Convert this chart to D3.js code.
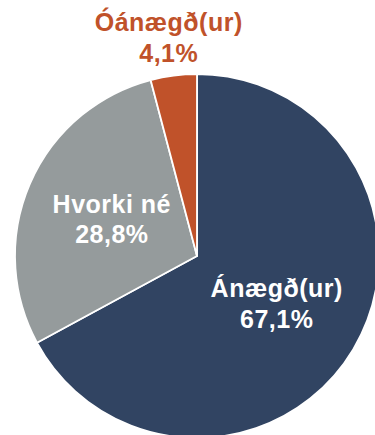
<!DOCTYPE html>
<html>
<head>
<meta charset="utf-8">
<script src="https://cdn.jsdelivr.net/npm/d3@7/dist/d3.min.js"></script>
<style>
  html, body { margin: 0; padding: 0; background: #ffffff; }
  svg { display: block; }
  text { font-family: "Liberation Sans", Arial, sans-serif; font-weight: bold; }
</style>
</head>
<body>
<svg id="chart" width="375" height="435"></svg>
<script>
// Satisfaction shares (percent)
const categories = ["Ánægð(ur)", "Hvorki né", "Óánægð(ur)"];
const values = [67.1, 28.8, 4.1];
const valueLabels = ["67,1%", "28,8%", "4,1%"];
const colors = ["#314462", "#959b9c", "#c0522a"];
const labelInside = [true, true, false];

const width = 375, height = 435;
const cx = 197, cy = 256, radius = 182;

const svg = d3.select("#chart");
const g = svg.append("g").attr("transform", `translate(${cx},${cy})`);

const data = categories.map((c, i) => ({ name: c, value: values[i], label: valueLabels[i], color: colors[i], inside: labelInside[i] }));

const pie = d3.pie().value(d => d.value).sort(null);
const arcs = pie(data);

const arc = d3.arc().innerRadius(0).outerRadius(radius);

g.selectAll("path.slice")
  .data(arcs)
  .join("path")
  .attr("class", "slice")
  .attr("d", arc)
  .attr("fill", d => d.data.color)
  .attr("stroke", "#ffffff")
  .attr("stroke-width", 1.8)
  .attr("stroke-linejoin", "round");

// Label anchors: inside labels near mid-radius, small slice label outside the rim
const insideArc = d3.arc().innerRadius(radius * 0.51).outerRadius(radius * 0.51);
const outsideArc = d3.arc().innerRadius(radius * 1.21).outerRadius(radius * 1.21);

const fontSize = 25;
const lineGap = 30.5;

const labels = g.selectAll("g.label")
  .data(arcs)
  .join("g")
  .attr("class", "label")
  .attr("transform", d => {
    const [x, y] = (d.data.inside ? insideArc : outsideArc).centroid(d);
    return `translate(${x},${y})`;
  });

labels.append("text")
  .attr("text-anchor", "middle")
  .attr("y", -lineGap / 2 + fontSize * 0.36)
  .attr("font-size", fontSize)
  .attr("letter-spacing", 0.5)
  .attr("fill", d => d.data.inside ? "#ffffff" : d.data.color)
  .text(d => d.data.name);

labels.append("text")
  .attr("text-anchor", "middle")
  .attr("y", lineGap / 2 + fontSize * 0.36)
  .attr("font-size", fontSize)
  .attr("letter-spacing", 0.5)
  .attr("fill", d => d.data.inside ? "#ffffff" : d.data.color)
  .text(d => d.data.label);
</script>
</body>
</html>
